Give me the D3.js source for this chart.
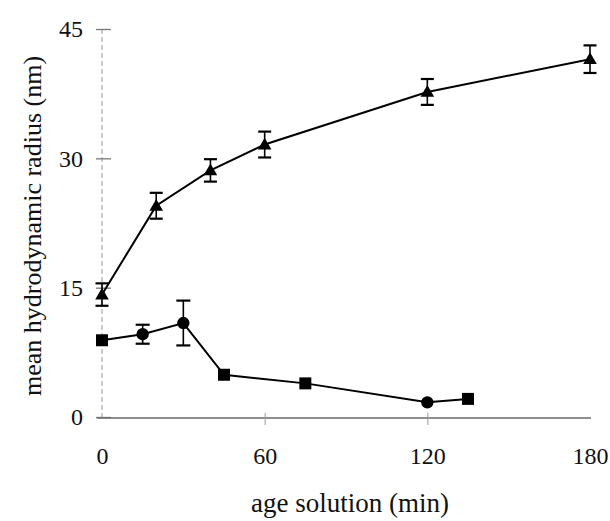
<!DOCTYPE html>
<html>
<head>
<meta charset="utf-8">
<script src="https://cdn.jsdelivr.net/npm/d3@7"></script>
<style>
  html, body { margin: 0; padding: 0; background: #fff; }
  svg { display: block; }
  text { font-family: "Liberation Serif", "Times New Roman", serif; fill: #111; }
</style>
</head>
<body>
<svg id="chart" width="610" height="521"></svg>
<script>
// Series A (triangles)
const timeA = [0, 20, 40, 60, 120, 180];
const radiusA = [14.2, 24.5, 28.6, 31.6, 37.7, 41.5];
const errA = [1.3, 1.5, 1.3, 1.5, 1.5, 1.6];

// Series B (squares / circles)
const timeB = [0, 15, 30, 45, 75, 120, 135];
const radiusB = [8.9, 9.6, 10.9, 4.9, 3.9, 1.7, 2.1];
const errB = [0, 1.1, 2.6, 0, 0, 0, 0];
const markerB = ["square", "circle", "circle", "square", "square", "circle", "square"];

const xTicks = [0, 60, 120, 180];
const yTicks = [0, 15, 30, 45];
const xTitle = "age solution (min)";
const yTitle = "mean hydrodynamic radius (nm)";

const svg = d3.select("#chart");
const x = d3.scaleLinear().domain([0, 180]).range([102, 590]);
const y = d3.scaleLinear().domain([0, 45]).range([417, 29]);

// Y axis: faint dashed line
svg.append("line")
  .attr("x1", x(0)).attr("x2", x(0))
  .attr("y1", y(45)).attr("y2", y(0))
  .attr("stroke", "#aaa").attr("stroke-width", 1.2)
  .attr("stroke-dasharray", "5,3");

// Y ticks
const yAxis = d3.axisLeft(y).tickValues(yTicks).tickSize(0).tickPadding(19);
const gy = svg.append("g").attr("transform", `translate(${x(0)},0)`).call(yAxis);
gy.select(".domain").remove();
gy.selectAll(".tick text").attr("font-size", 24).attr("font-family", "Liberation Serif").attr("fill", "#111");
gy.selectAll(".tick").append("line")
  .attr("x1", -6).attr("x2", 9).attr("y1", 0).attr("y2", 0)
  .attr("stroke", "#777").attr("stroke-width", 1.3);

// X axis
svg.append("line")
  .attr("x1", x(0) - 5).attr("x2", x(180) + 1)
  .attr("y1", y(0) + 1).attr("y2", y(0) + 1)
  .attr("stroke", "#6a6a6a").attr("stroke-width", 1.6);
const xAxis = d3.axisBottom(x).tickValues(xTicks).tickSize(0).tickPadding(29);
const gx = svg.append("g").attr("transform", `translate(0,${y(0) + 1})`).call(xAxis);
gx.select(".domain").remove();
gx.selectAll(".tick text").attr("font-size", 24).attr("font-family", "Liberation Serif").attr("fill", "#111");
gx.selectAll(".tick").filter(d => d > 0 && d < 180).append("line")
  .attr("y1", -5).attr("y2", 7).attr("stroke", "#999").attr("stroke-width", 1);

// Titles
svg.append("text")
  .attr("x", 350).attr("y", 512)
  .attr("text-anchor", "middle").attr("font-size", 27)
  .text(xTitle);
svg.append("text")
  .attr("transform", `translate(41,${226}) rotate(-90)`)
  .attr("text-anchor", "middle").attr("font-size", 26)
  .text(yTitle);

const lineGen = d3.line().x(d => x(d[0])).y(d => y(d[1]));

// Series A
const dataA = timeA.map((t, i) => [t, radiusA[i], errA[i]]);
svg.append("path").datum(dataA).attr("d", lineGen)
  .attr("fill", "none").attr("stroke", "#000").attr("stroke-width", 2);
const eb = svg.append("g").attr("stroke", "#000").attr("stroke-width", 1.6);
dataA.forEach(d => {
  eb.append("line").attr("x1", x(d[0])).attr("x2", x(d[0])).attr("y1", y(d[1] - d[2])).attr("y2", y(d[1] + d[2]));
  [d[1] - d[2], d[1] + d[2]].forEach(v => {
    eb.append("line").attr("x1", x(d[0]) - 6.5).attr("x2", x(d[0]) + 6.5).attr("y1", y(v)).attr("y2", y(v)).attr("stroke-width", 2.2);
  });
});
svg.append("g").selectAll("path").data(dataA).join("path")
  .attr("transform", d => `translate(${x(d[0])},${y(d[1]) + 1})`)
  .attr("d", d3.symbol().type(d3.symbolTriangle).size(80))
  .attr("fill", "#000");

// Series B
const dataB = timeB.map((t, i) => [t, radiusB[i], errB[i], markerB[i]]);
svg.append("path").datum(dataB).attr("d", lineGen)
  .attr("fill", "none").attr("stroke", "#000").attr("stroke-width", 2);
dataB.filter(d => d[2] > 0).forEach(d => {
  eb.append("line").attr("x1", x(d[0])).attr("x2", x(d[0])).attr("y1", y(d[1] - d[2])).attr("y2", y(d[1] + d[2]));
  [d[1] - d[2], d[1] + d[2]].forEach(v => {
    eb.append("line").attr("x1", x(d[0]) - 7).attr("x2", x(d[0]) + 7).attr("y1", y(v)).attr("y2", y(v)).attr("stroke-width", 2.2);
  });
});
svg.append("g").selectAll("path").data(dataB).join("path")
  .attr("transform", d => `translate(${x(d[0])},${y(d[1])})`)
  .attr("d", d => d3.symbol().type(d[3] === "square" ? d3.symbolSquare : d3.symbolCircle).size(d[3] === "square" ? 144 : 120)())
  .attr("fill", "#000");
</script>
</body>
</html>
